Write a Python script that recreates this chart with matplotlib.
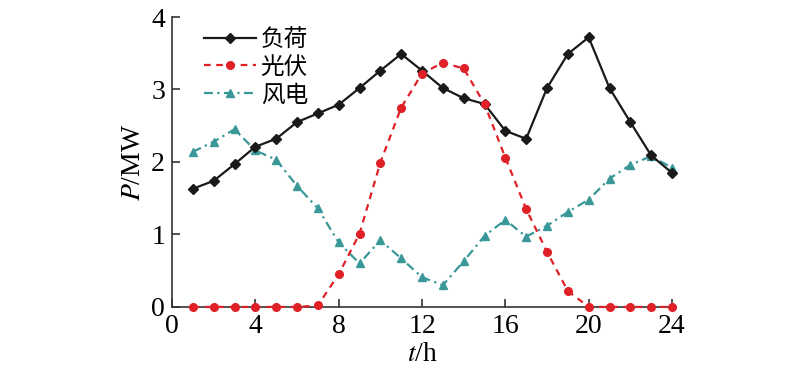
import matplotlib

matplotlib.use("Agg")
import matplotlib.pyplot as plt

# hourly power, MW
hours = list(range(1, 25))
load = [1.63, 1.74, 1.97, 2.21, 2.32, 2.55, 2.67, 2.79, 3.02, 3.26, 3.49, 3.26,
        3.02, 2.88, 2.80, 2.43, 2.32, 3.02, 3.49, 3.72, 3.02, 2.55, 2.09, 1.85]
pv = [0, 0, 0, 0, 0, 0, 0.02, 0.45, 1.01, 1.99, 2.75, 3.22,
      3.37, 3.29, 2.80, 2.06, 1.35, 0.76, 0.22, 0, 0, 0, 0, 0]
wind = [2.14, 2.28, 2.45, 2.16, 2.03, 1.67, 1.36, 0.89, 0.60, 0.92, 0.67, 0.41,
        0.30, 0.63, 0.98, 1.20, 0.97, 1.12, 1.31, 1.48, 1.77, 1.96, 2.08, 1.92]
series_names = ["负荷", "光伏", "风电"]
x_ticks = [0, 4, 8, 12, 16, 20, 24]
y_ticks = [0, 1, 2, 3, 4]

plt.rcParams["mathtext.fontset"] = "stix"
serif = ["Liberation Serif", "DejaVu Serif"]
cjk = ["Noto Sans CJK SC", "DejaVu Sans"]

fig = plt.figure(figsize=(8, 3.78), dpi=100)
ax = fig.add_axes([0.215, 0.188, 0.625, 0.767])

ax.plot(hours, load, color="#1a1a1a", lw=1.6, marker="D", ms=5, label=series_names[0],
        clip_on=False, zorder=3)
ax.plot(hours, pv, color="#e02027", lw=1.6, ls=(0, (3, 2.5)), marker="o", ms=5.5,
        label=series_names[1], clip_on=False, zorder=4)
ax.plot(hours, wind, color="#3a9898", lw=1.6, ls=(0, (4, 2, 1, 2)), marker="^", ms=6,
        label=series_names[2], clip_on=False, zorder=2)

ax.set_xlim(0, 24)
ax.set_ylim(0, 4)
ax.set_xticks(x_ticks)
ax.set_yticks(y_ticks)
for s in ("top", "right"):
    ax.spines[s].set_visible(False)
for s in ("left", "bottom"):
    ax.spines[s].set_linewidth(1.2)
    ax.spines[s].set_color("#333333")
ax.tick_params(direction="in", length=6, width=1.2, color="#333333", pad=5)
for lab in ax.get_xticklabels() + ax.get_yticklabels():
    lab.set_fontfamily(serif)
    lab.set_fontsize(20)

ax.set_xlabel("$t$/h", fontsize=20, family=serif, labelpad=2)
ax.set_ylabel("$P$/MW", fontsize=20, family=serif, labelpad=4)

leg = ax.legend(loc="upper left", bbox_to_anchor=(0.045, 0.995), frameon=False,
                prop={"family": cjk, "size": 17}, handlelength=2.2,
                handletextpad=0.2, labelspacing=0.2, borderaxespad=0)

fig.savefig("out.png", dpi=100)
